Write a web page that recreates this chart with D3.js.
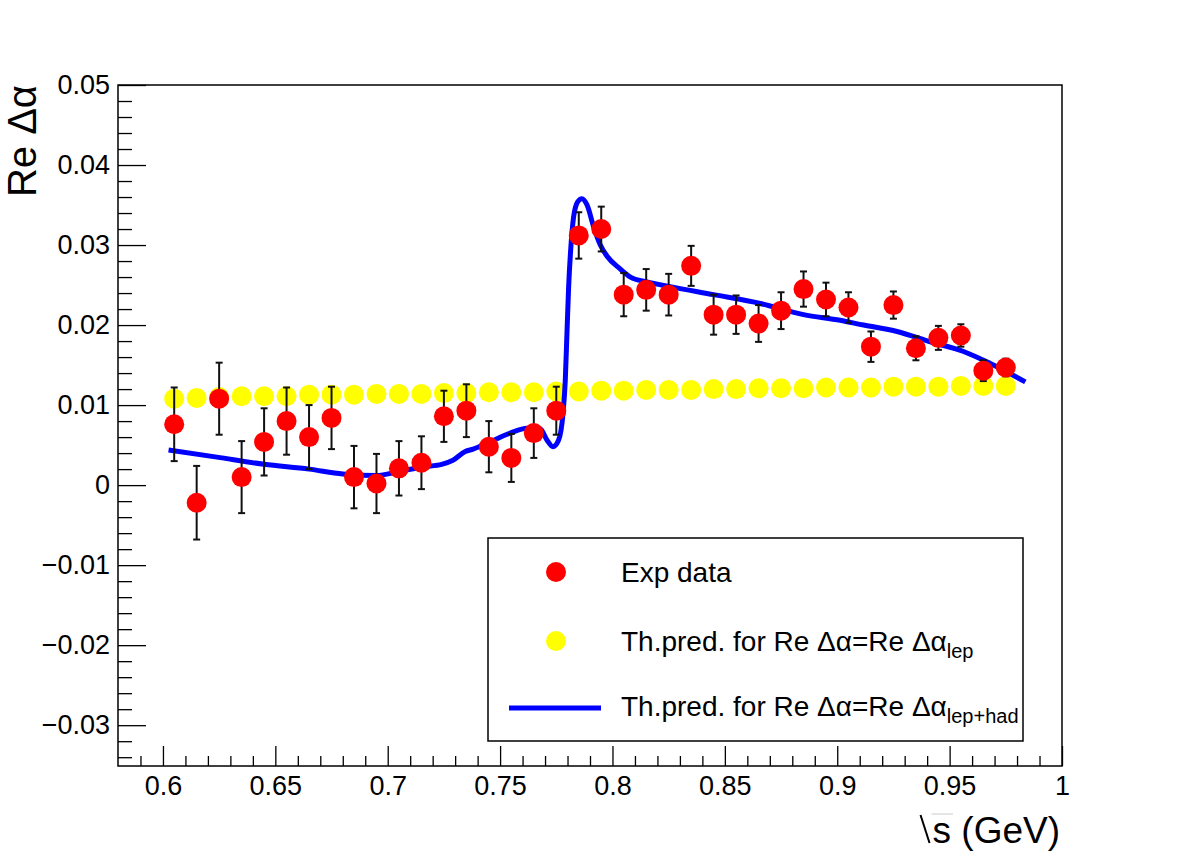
<!DOCTYPE html>
<html>
<head>
<meta charset="utf-8">
<script src="https://cdn.jsdelivr.net/npm/d3@7/dist/d3.min.js"></script>
<style>
  body { margin: 0; background: #fff; }
  svg { font-family: "Liberation Sans", Arial, sans-serif; }
</style>
</head>
<body>
<svg id="chart" width="1182" height="853"></svg>
<script>
// sqrt(s) values of the measured points (GeV)
const energies = [0.605, 0.615, 0.625, 0.635, 0.645, 0.655, 0.665, 0.675, 0.685, 0.695,
  0.705, 0.715, 0.725, 0.735, 0.745, 0.755, 0.765, 0.775, 0.785, 0.795,
  0.805, 0.815, 0.825, 0.835, 0.845, 0.855, 0.865, 0.875, 0.885, 0.895,
  0.905, 0.915, 0.925, 0.935, 0.945, 0.955, 0.965, 0.975];

const expValues = [0.0076, -0.0022, 0.0108, 0.0010, 0.0054, 0.0080, 0.0060, 0.0084, 0.0010, 0.0002,
  0.0021, 0.0028, 0.0086, 0.0093, 0.0048, 0.0034, 0.0065, 0.0093, 0.0312, 0.0320,
  0.0238, 0.0244, 0.0238, 0.0274, 0.0213, 0.0213, 0.0202, 0.0218, 0.0245, 0.0232,
  0.0222, 0.0173, 0.0225, 0.0171, 0.0184, 0.0187, 0.0143, 0.0147];

const expErrors = [0.0046, 0.0046, 0.0045, 0.0045, 0.0042, 0.0042, 0.0040, 0.0039, 0.0039, 0.0037,
  0.0034, 0.0033, 0.0032, 0.0033, 0.0032, 0.0030, 0.0031, 0.0030, 0.0029, 0.0028,
  0.0027, 0.0026, 0.0026, 0.0025, 0.0025, 0.0024, 0.0023, 0.0023, 0.0022, 0.0021,
  0.0019, 0.0019, 0.0017, 0.0015, 0.0015, 0.0014, 0.0013, 0.0011];

// leptonic-only prediction at the same energies
const lepValues = [0.0108, 0.0109, 0.0110, 0.0111, 0.0111, 0.0111, 0.0113, 0.0113, 0.0113, 0.0114,
  0.0114, 0.0114, 0.0115, 0.0115, 0.0116, 0.0116, 0.0116, 0.0117, 0.0117, 0.0118,
  0.0118, 0.0119, 0.0119, 0.0119, 0.0120, 0.0120, 0.0121, 0.0121, 0.0121, 0.0122,
  0.0122, 0.0122, 0.0123, 0.0123, 0.0123, 0.0124, 0.0124, 0.0124];

// leptonic + hadronic prediction curve
const hadX = [0.6025, 0.624, 0.645, 0.665, 0.680, 0.695, 0.705, 0.716, 0.724, 0.729,
  0.7345, 0.738, 0.7455, 0.7545, 0.762, 0.7679, 0.7709, 0.7735, 0.776, 0.778,
  0.779, 0.7798, 0.7805, 0.7815, 0.7827, 0.7845, 0.7864, 0.7887, 0.7916, 0.7946,
  0.7976, 0.8035, 0.808, 0.8153, 0.8257, 0.845, 0.8658, 0.885, 0.9013, 0.9117,
  0.9266, 0.9414, 0.9562, 0.9681, 0.9837];
const hadY = [0.0044, 0.0035, 0.0026, 0.0020, 0.0014, 0.0012, 0.0017, 0.0023, 0.0026, 0.0031,
  0.0042, 0.0045, 0.0054, 0.0065, 0.0071, 0.0070, 0.0056, 0.0048, 0.0056, 0.0090,
  0.0131, 0.0194, 0.0248, 0.0298, 0.0335, 0.0354, 0.0358, 0.0350, 0.0323, 0.0300,
  0.0286, 0.0270, 0.0260, 0.0254, 0.0248, 0.0238, 0.0227, 0.0213, 0.0206, 0.0200,
  0.0192, 0.0179, 0.0167, 0.0152, 0.0129];

const xMajor = [0.6, 0.65, 0.7, 0.75, 0.8, 0.85, 0.9, 0.95, 1.0];
const xLabels = ["0.6", "0.65", "0.7", "0.75", "0.8", "0.85", "0.9", "0.95", "1"];
const yMajor = [0.05, 0.04, 0.03, 0.02, 0.01, 0, -0.01, -0.02, -0.03];
const yLabels = ["0.05", "0.04", "0.03", "0.02", "0.01", "0", "\u22120.01", "\u22120.02", "\u22120.03"];

const padL = 118, padR = 1062, padT = 85, padB = 766;

const svg = d3.select("#chart");
const x = d3.scaleLinear().domain([0.58, 1.0]).range([padL, padR]);
const y = d3.scaleLinear().domain([-0.0351, 0.05]).range([padB, padT]);

// minor ticks every 0.01 on x, 0.002 on y
const xMinor = d3.range(59, 100).map(d => d / 100).filter(d => !xMajor.some(m => Math.abs(m - d) < 1e-9));
const yMinor = d3.range(-17, 25).map(d => d * 0.002).filter(d => !yMajor.some(m => Math.abs(m - d) < 1e-9));

function styleAxis(g) {
  g.select(".domain").remove();
  g.selectAll("line").attr("stroke", "#000").attr("stroke-width", 1.3);
  g.selectAll("text").attr("fill", "#000").attr("font-size", 27)
    .attr("font-family", "Liberation Sans, Arial, sans-serif");
}

svg.append("g")
  .attr("transform", `translate(0,${padB})`)
  .call(d3.axisBottom(x).tickValues(xMinor).tickSize(-10).tickFormat(""))
  .call(styleAxis);

svg.append("g")
  .attr("transform", `translate(0,${padB})`)
  .call(d3.axisBottom(x).tickValues(xMajor).tickSize(-20).tickPadding(10)
    .tickFormat((d, i) => xLabels[i]))
  .call(styleAxis);

svg.append("g")
  .attr("transform", `translate(${padL},0)`)
  .call(d3.axisLeft(y).tickValues(yMinor).tickSize(-14).tickFormat(""))
  .call(styleAxis);

svg.append("g")
  .attr("transform", `translate(${padL},0)`)
  .call(d3.axisLeft(y).tickValues(yMajor).tickSize(-28).tickPadding(8)
    .tickFormat((d, i) => yLabels[i]))
  .call(styleAxis);

// frame
svg.append("rect")
  .attr("x", padL).attr("y", padT)
  .attr("width", padR - padL).attr("height", padB - padT)
  .attr("fill", "none").attr("stroke", "#000").attr("stroke-width", 1.5);

// leptonic prediction (yellow)
svg.append("g").selectAll("circle")
  .data(energies)
  .join("circle")
  .attr("cx", d => x(d))
  .attr("cy", (d, i) => y(lepValues[i]))
  .attr("r", 10)
  .attr("fill", "#ffff00");

// lep+had curve
const line = d3.line()
  .x(d => x(d[0]))
  .y(d => y(d[1]))
  .curve(d3.curveMonotoneX);

svg.append("path")
  .datum(hadX.map((d, i) => [d, hadY[i]]))
  .attr("d", line)
  .attr("fill", "none")
  .attr("stroke", "#0000ff")
  .attr("stroke-width", 5);

// experimental points with error bars
const pts = svg.append("g").selectAll("g")
  .data(energies)
  .join("g");

pts.append("line")
  .attr("x1", d => x(d)).attr("x2", d => x(d))
  .attr("y1", (d, i) => y(expValues[i] + expErrors[i]))
  .attr("y2", (d, i) => y(expValues[i] - expErrors[i]))
  .attr("stroke", "#111").attr("stroke-width", 2);

[1, -1].forEach(s => {
  pts.append("line")
    .attr("x1", d => x(d) - 3.5).attr("x2", d => x(d) + 3.5)
    .attr("y1", (d, i) => y(expValues[i] + s * expErrors[i]))
    .attr("y2", (d, i) => y(expValues[i] + s * expErrors[i]))
    .attr("stroke", "#111").attr("stroke-width", 2);
});

pts.append("circle")
  .attr("cx", d => x(d))
  .attr("cy", (d, i) => y(expValues[i]))
  .attr("r", 10)
  .attr("fill", "#ff0000");

// legend
const lg = svg.append("g");
lg.append("rect")
  .attr("x", 488).attr("y", 538).attr("width", 535).attr("height", 203)
  .attr("fill", "#fff").attr("stroke", "#000").attr("stroke-width", 1.5);

lg.append("circle").attr("cx", 556).attr("cy", 572).attr("r", 10).attr("fill", "#ff0000");
lg.append("circle").attr("cx", 556).attr("cy", 641).attr("r", 10).attr("fill", "#ffff00");
lg.append("line").attr("x1", 509).attr("x2", 601).attr("y1", 708).attr("y2", 708)
  .attr("stroke", "#0000ff").attr("stroke-width", 5);

lg.append("text").attr("x", 621).attr("y", 582).attr("font-size", 28).text("Exp data");

const t2 = lg.append("text").attr("x", 621).attr("y", 651).attr("font-size", 28);
t2.append("tspan").text("Th.pred. for Re \u0394\u03b1=Re \u0394\u03b1");
t2.append("tspan").attr("dy", 7).attr("font-size", 20).text("lep");

const t3 = lg.append("text").attr("x", 621).attr("y", 716).attr("font-size", 28);
t3.append("tspan").text("Th.pred. for Re \u0394\u03b1=Re \u0394\u03b1");
t3.append("tspan").attr("dy", 7).attr("font-size", 20).text("lep+had");

// axis titles
svg.append("text")
  .attr("transform", `translate(36,${padT}) rotate(-90)`)
  .attr("text-anchor", "end")
  .attr("font-size", 40)
  .text("Re \u0394\u03b1");

const xBase = 843;
const xt = svg.append("text")
  .attr("x", 1060).attr("y", xBase)
  .attr("text-anchor", "end")
  .attr("font-size", 37)
  .text("s (GeV)");

// hand-drawn radical over the "s"
const bb = xt.node().getBBox();
const sx = bb.x, sw = xt.node().getSubStringLength(0, 1);
svg.append("path")
  .attr("d", `M${sx - 12},${xBase - 28} L${sx - 3},${xBase}`)
  .attr("stroke", "#000").attr("stroke-width", 2).attr("fill", "none");
svg.append("path")
  .attr("d", `M${sx - 1},${xBase - 29} L${sx + sw + 2},${xBase - 29}`)
  .attr("stroke", "#ccc").attr("stroke-width", 1).attr("fill", "none");
</script>
</body>
</html>
